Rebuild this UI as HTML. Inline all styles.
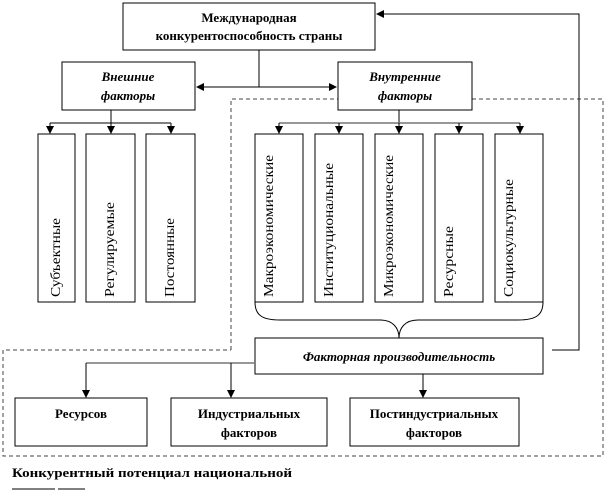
<!DOCTYPE html>
<html><head><meta charset="utf-8"><style>
html,body{margin:0;padding:0;background:#fff}
svg{display:block}
.b{font-family:"Liberation Serif",serif;font-weight:bold;font-size:13px}
.bi{font-family:"Liberation Serif",serif;font-weight:bold;font-style:italic;font-size:13px}
.m text{font-family:"Liberation Serif",serif;font-size:14px}
</style></head><body>
<svg width="614" height="497" viewBox="0 0 614 497" xmlns="http://www.w3.org/2000/svg">
<defs><marker id="a" markerWidth="8" markerHeight="8" refX="7" refY="4" orient="auto" markerUnits="userSpaceOnUse"><path d="M0,0 L8,4 L0,8 z" fill="#000"/></marker></defs>
<g fill="none" stroke="#000" stroke-width="1">
<path d="M231,350 V99 H338 M472,99 H603 V456 H3 V350 H231" stroke-dasharray="4,3" stroke="#444"/>
<rect x="123" y="3" width="252" height="47" fill="#fff"/>
<rect x="62" y="62" width="133" height="48" fill="#fff"/>
<rect x="338" y="62" width="134" height="48" fill="#fff"/>
<path d="M259,50 V87"/>
<path d="M259,87 H197" marker-end="url(#a)"/>
<path d="M259,87 H336" marker-end="url(#a)"/>
<path d="M552,350 H579 V14 H377" marker-end="url(#a)"/>
<path d="M111,110 V123 M50,123 H171"/>
<path d="M50,123 V133" marker-end="url(#a)"/><path d="M111,123 V133" marker-end="url(#a)"/><path d="M171,123 V133" marker-end="url(#a)"/>
<path d="M399,110 V123"/><path d="M279,123 H520" stroke="#777" stroke-width="1.5"/>
<path d="M279,123 V133" marker-end="url(#a)"/><path d="M339,123 V133" marker-end="url(#a)"/><path d="M399,123 V133" marker-end="url(#a)"/><path d="M459,123 V133" marker-end="url(#a)"/><path d="M520,123 V133" marker-end="url(#a)"/>
<rect x="38" y="134" width="37" height="168"/><rect x="86" y="134" width="49" height="168"/><rect x="146" y="134" width="49" height="168"/>
<rect x="255" y="134" width="48" height="168"/><rect x="315" y="134" width="48" height="168"/><rect x="375" y="134" width="48" height="168"/><rect x="435" y="134" width="48" height="168"/><rect x="495" y="134" width="48" height="168"/>
<path d="M255,302 C255,315 262,320 280,320 H380 C393,320 399,328 399,338 C399,328 405,320 418,320 H518 C536,320 543,315 543,302"/>
<rect x="255" y="338" width="288" height="36" fill="#fff"/>
<path d="M255,363 H86" stroke="#777" stroke-width="1.5"/>
<path d="M86,363 V397" marker-end="url(#a)"/><path d="M231,363 V397" marker-end="url(#a)"/><path d="M423,374 V397" marker-end="url(#a)"/>
<rect x="15" y="398" width="132" height="48"/><rect x="171" y="398" width="156" height="48"/><rect x="350" y="398" width="169" height="48"/>
<path d="M12,489 H55 M58,489 H85"/>
</g>
<g text-anchor="middle">
<text class="b" x="249" y="22">Международная</text>
<text class="b" x="249" y="40">конкурентоспособность  страны</text>
<text class="bi" x="128" y="81">Внешние</text><text class="bi" x="128" y="100">факторы</text>
<text class="bi" x="405" y="81">Внутренние</text><text class="bi" x="405" y="100">факторы</text>
<text class="bi" x="399" y="361">Факторная производительность</text>
<text class="b" x="81" y="418">Ресурсов</text>
<text class="b" x="249" y="418">Индустриальных</text><text class="b" x="249" y="437">факторов</text>
<text class="b" x="434" y="418">Постиндустриальных</text><text class="b" x="434" y="437">факторов</text>
</g>
<text class="b" x="12" y="477" font-size="12" textLength="280" lengthAdjust="spacingAndGlyphs">Конкурентный потенциал национальной</text>
<g class="m">
<text transform="translate(60,297) rotate(-90)" textLength="79" lengthAdjust="spacingAndGlyphs">Субъектные</text>
<text transform="translate(114,297) rotate(-90)" textLength="95" lengthAdjust="spacingAndGlyphs">Регулируемые</text>
<text transform="translate(174,297) rotate(-90)" textLength="79" lengthAdjust="spacingAndGlyphs">Постоянные</text>
<text transform="translate(273,297) rotate(-90)" textLength="142" lengthAdjust="spacingAndGlyphs">Макроэкономические</text>
<text transform="translate(333,297) rotate(-90)" textLength="134" lengthAdjust="spacingAndGlyphs">Институциональные</text>
<text transform="translate(393,297) rotate(-90)" textLength="142" lengthAdjust="spacingAndGlyphs">Микроэкономические</text>
<text transform="translate(453,297) rotate(-90)" textLength="71" lengthAdjust="spacingAndGlyphs">Ресурсные</text>
<text transform="translate(513,297) rotate(-90)" textLength="118" lengthAdjust="spacingAndGlyphs">Социокультурные</text>
</g>
</svg>
</body></html>
